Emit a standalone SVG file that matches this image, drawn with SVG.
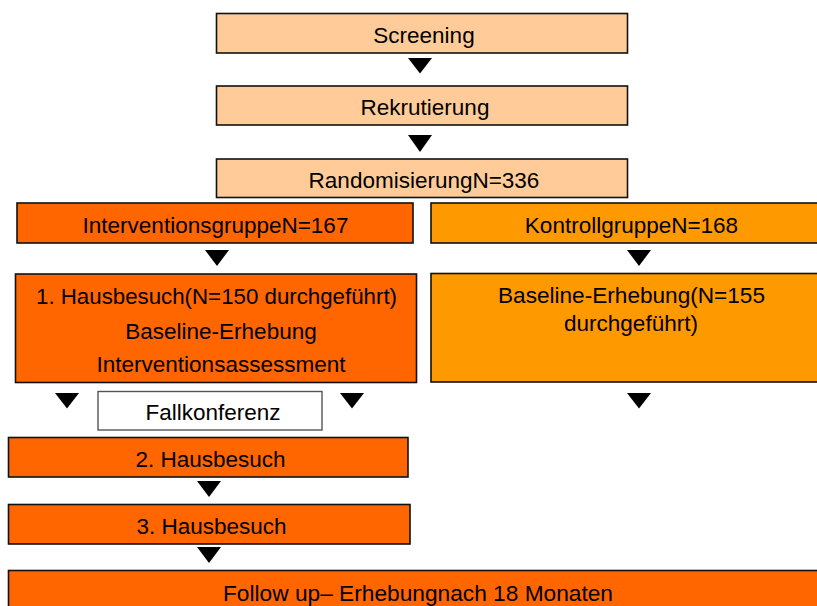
<svg xmlns="http://www.w3.org/2000/svg" width="817" height="606" viewBox="0 0 817 606">
<style>
.box{stroke:#111;stroke-width:1.6}
.peach{fill:#FFCC99}
.orange{fill:#FF6600}
.lorange{fill:#FF9900}
.white{fill:#fff;stroke:#555;stroke-width:1.4}
text{font-family:"Liberation Sans",Arial,sans-serif;font-size:22.5px;fill:#000;text-anchor:middle}
.arrow{fill:#000}
</style>
<rect width="817" height="606" fill="#fff"/>
<g id="screening"><rect class="box peach" x="216.5" y="13.5" width="411" height="39.5"/><text x="424" y="43">Screening</text></g>
<g id="rekrutierung"><rect class="box peach" x="216.5" y="86" width="411" height="39"/><text x="425" y="115">Rekrutierung</text></g>
<g id="randomisierung"><rect class="box peach" x="216.5" y="159" width="411" height="38.5"/><text x="424" y="188">RandomisierungN=336</text></g>
<g id="interventionsgruppe"><rect class="box orange" x="17" y="203" width="396" height="40"/><text x="215.5" y="233">InterventionsgruppeN=167</text></g>
<g id="kontrollgruppe"><rect class="box lorange" x="431" y="203" width="400" height="40"/><text x="631.5" y="233">KontrollgruppeN=168</text></g>
<g id="hausbesuch1"><rect class="box orange" x="15.5" y="274" width="401" height="108.5"/><text x="216.5" y="304" textLength="361" lengthAdjust="spacingAndGlyphs">1. Hausbesuch(N=150 durchgeführt)</text><text x="221" y="339">Baseline-Erhebung</text><text x="221" y="372">Interventionsassessment</text></g>
<g id="baseline-kontrolle"><rect class="box lorange" x="431" y="273.5" width="400" height="108.5"/><text x="631.5" y="303" textLength="267" lengthAdjust="spacingAndGlyphs">Baseline-Erhebung(N=155</text><text x="631" y="331">durchgeführt)</text></g>
<g id="fallkonferenz"><rect class="white" x="98" y="391.5" width="224" height="38.5"/><text x="213" y="420">Fallkonferenz</text></g>
<g id="hausbesuch2"><rect class="box orange" x="8.5" y="437.5" width="399.5" height="39.5"/><text x="210.5" y="467">2. Hausbesuch</text></g>
<g id="hausbesuch3"><rect class="box orange" x="8.5" y="504.5" width="401.5" height="39.5"/><text x="211.5" y="534">3. Hausbesuch</text></g>
<g id="followup"><rect class="box orange" x="8.5" y="570.5" width="830" height="50"/><text x="418" y="601" textLength="390" lengthAdjust="spacingAndGlyphs">Follow up– Erhebungnach 18 Monaten</text></g>
<g id="connectors">
<polygon class="arrow" points="408,58 432,58 420,73.5"/>
<polygon class="arrow" points="408,135 432,135 420,152"/>
<polygon class="arrow" points="205,250 229,250 217,266"/>
<polygon class="arrow" points="627,250 651,250 639,266"/>
<polygon class="arrow" points="55,393 79,393 67,408.5"/>
<polygon class="arrow" points="340,393 364,393 352,408.5"/>
<polygon class="arrow" points="627,393 651,393 639,408.5"/>
<polygon class="arrow" points="197,481 221,481 209,497"/>
<polygon class="arrow" points="197,547 221,547 209,563"/>
</g>
</svg>
